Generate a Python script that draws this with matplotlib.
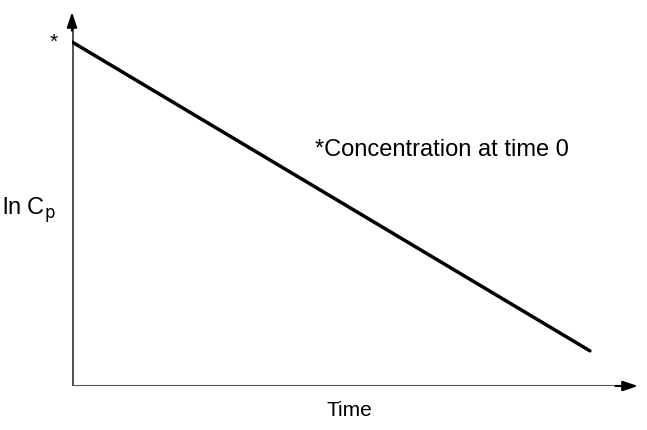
import matplotlib
matplotlib.use("Agg")
import matplotlib.pyplot as plt

# Data: ln Cp falls linearly with time (arbitrary units)
time = [0.0, 9.15]
ln_cp = [9.2, 0.94]

plt.rcParams['font.family'] = ['Liberation Sans', 'DejaVu Sans']

fig = plt.figure(figsize=(6.47, 4.30), dpi=100)
ax = fig.add_axes([72 / 647, 44 / 430, 566 / 647, 374 / 430])
ax.set_xlim(0, 10)
ax.set_ylim(0, 10)
ax.axis('off')

# axes: grey shafts with black arrowheads
ax.plot([0, 9.7], [0, 0], color='#555555', lw=2.2, solid_capstyle='butt')
ax.plot([0, 0], [0, 9.6], color='#555555', lw=2.2, solid_capstyle='butt')
head = dict(arrowstyle='-|>,head_length=0.9,head_width=0.3', color='black',
            lw=1.5, shrinkA=0, shrinkB=0)
ax.annotate('', xy=(10, 0), xytext=(9.6, 0), arrowprops=head)
ax.annotate('', xy=(0, 10), xytext=(0, 9.5), arrowprops=head)

ax.plot(time, ln_cp, color='black', lw=2.5, solid_capstyle='round')

ax.text(-0.32, ln_cp[0], '*', fontsize=15, ha='center', va='center')
ax.text(4.3, 6.3, '*Concentration at time 0', fontsize=17, ha='left', va='center')
ax.text(-1.24, 4.7, r'ln C$_{\mathrm{p}}$', fontsize=17, ha='left', va='center')
ax.text(4.9, -0.65, 'Time', fontsize=15, ha='center', va='center')

fig.savefig('out.png', dpi=100)
